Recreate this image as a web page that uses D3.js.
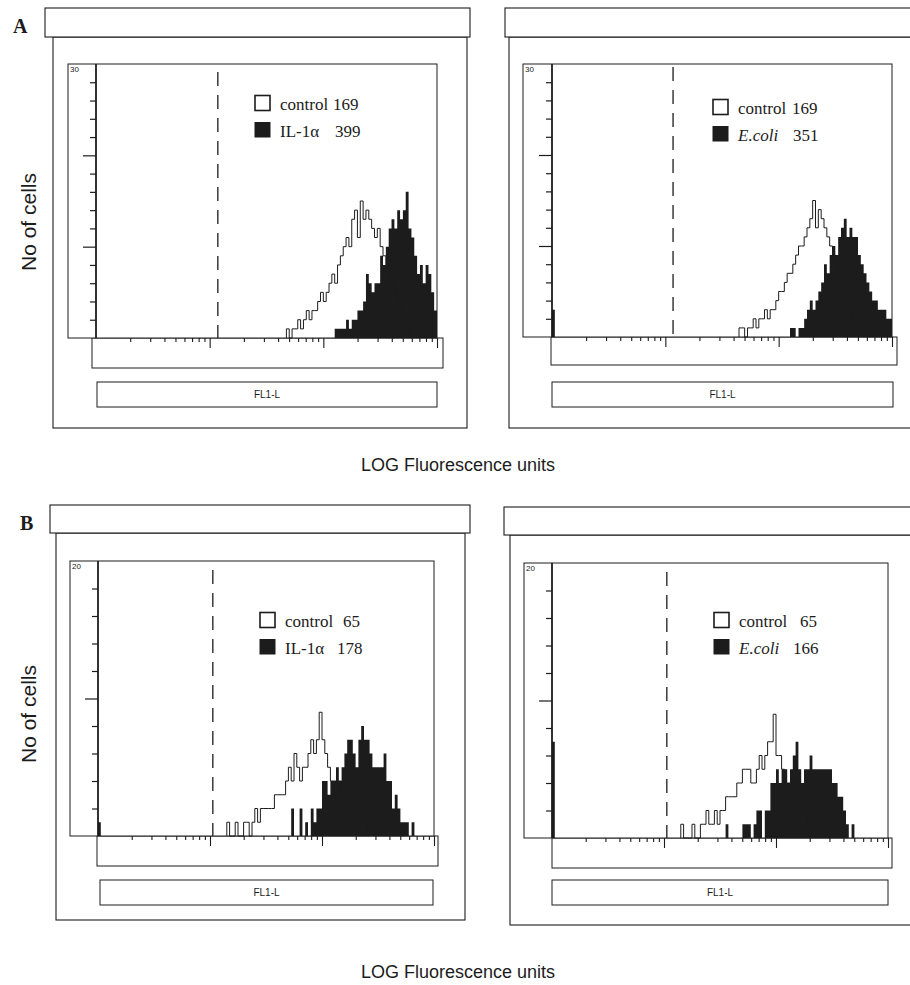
<!DOCTYPE html>
<html>
<head>
<meta charset="utf-8">
<script src="https://cdn.jsdelivr.net/npm/d3@7"></script>
<style>
  body { margin: 0; background: #fff; }
  svg { display: block; }
</style>
</head>
<body>
<div id="chart"></div>
<script>
// values (panel order: A left, A right, B left, B right)
var panelLetters = ["A", "B"];
var treatments = ["IL-1\u03b1", "E.coli", "IL-1\u03b1", "E.coli"];
var controlTotals = [169, 169, 65, 65];
var treatedTotals = [399, 351, 178, 166];
var yMax = [30, 30, 20, 20];
var markerValue = [11.8, 11.7, 10.6, 10.6];   // dashed gate line, FL1 units
var binsPerDecade = 40;                        // histogram channels per log decade
var firstChannel = [0, 3, 1, 7];               // pile-up in channel 0

var controlStart = [67, 66, 46, 46];
var controlCounts = [
  [1,0,1,1,2,1,2,3,2,3, 3,4,5,4,5,6,7,6,8,9, 10,11,10,13,14,11,15,13,14,13, 12,11,12,10,9,8,7,6,5,4, 3,2,1,1],
  [1,1,0,1,1,2,1,2,2,3, 2,3,3,4,5,5,6,7,7,8, 9,10,10,11,12,13,15,12,14,13, 12,11,10,9,8,7,6,5,4,3, 2,2,1,1],
  [1,0,0,1,0,0,1,1,0,1, 2,1,2,2,2,2,2,3,3,3, 3,4,5,4,6,5,4,5,5,6, 7,6,7,9,7,6,5,4,4,3, 4,3,3,2,2,2,1,1,1,1],
  [1,0,0,0,1,0,0,1,1,2, 1,1,2,1,2,2,3,3,3,3, 4,4,5,5,5,4,4,5,6,5, 6,7,7,9,6,6,5,4,4,3, 3,3,2,2,2,1,1,1,1]
];
var treatedStart = [84, 84, 69, 62];
var treatedCounts = [
  [1,1,1,1,2,1,2,2,3,3, 4,7,6,5,6,6,9,8,10,12, 13,12,14,13,14,16,12,11,9,7, 8,6,8,7,5,3],
  [1,1,0,1,1,2,3,4,3,4, 5,6,8,7,9,10,9,11,12,13, 11,12,11,11,9,8,7,6,5,4, 4,3,3,3,2,2],
  [2,0,0,2,0,1,0,2,1,2, 2,4,4,3,4,4,5,4,5,6, 7,7,6,5,7,8,7,7,6,5, 5,5,5,6,4,4,2,3,2,1, 1,1,0,1],
  [1,0,0,0,0,0,1,1,1,0, 1,2,2,0,2,2,4,4,5,4, 5,5,4,5,6,7,5,4,5,5, 6,5,5,5,5,5,5,5,4,4, 3,3,2,1,0,1]
];

// page layout (pixels)
var layout = [
  { header: [45, 8, 425, 29],  frame: [53, 37, 467, 428],  labelX: 68,  plot: [96, 437, 64, 338],
    axisBox: [92, 443, 338, 368], flBox: [97, 437, 382, 407], dashTop: 72,
    legend: [255, 96], countX: [333, 335] },
  { header: [505, 8, 430, 29], frame: [509, 37, 940, 428], labelX: 523, plot: [552, 892, 64, 337],
    axisBox: [551, 897, 337, 365], flBox: [552, 893, 382, 407], dashTop: 67,
    legend: [713, 100], countX: [792, 793] },
  { header: [50, 505, 420, 28], frame: [56, 533, 465, 920], labelX: 70,  plot: [98, 434, 561, 836],
    axisBox: [97, 438, 836, 866], flBox: [100, 433, 880, 905], dashTop: 570,
    legend: [260, 613], countX: [343, 337] },
  { header: [504, 507, 430, 28], frame: [510, 535, 940, 925], labelX: 524, plot: [552, 888, 563, 838],
    axisBox: [552, 892, 838, 868], flBox: [552, 888, 880, 905], dashTop: 572,
    legend: [714, 613], countX: [800, 793] }
];

var ink = "#1c1c1c";
var serif = "'Liberation Serif', 'Times New Roman', serif";
var sans = "'Liberation Sans', Arial, sans-serif";

var svg = d3.select("#chart").append("svg")
    .attr("width", 910)
    .attr("height", 985);

function binPoints(start, counts) {
  var pts = [{ v: Math.pow(10, start / binsPerDecade), c: 0 }];
  counts.forEach(function(c, k) {
    pts.push({ v: Math.pow(10, (start + k) / binsPerDecade), c: c });
  });
  pts.push({ v: Math.pow(10, (start + counts.length) / binsPerDecade), c: 0 });
  return pts;
}

layout.forEach(function(L, i) {
  var g = svg.append("g");

  // outer frame and header bar
  g.append("rect")
      .attr("x", L.frame[0]).attr("y", L.frame[1])
      .attr("width", L.frame[2] - L.frame[0]).attr("height", L.frame[3] - L.frame[1])
      .attr("fill", "none").attr("stroke", ink).attr("stroke-width", 1.1);
  g.append("rect")
      .attr("x", L.header[0]).attr("y", L.header[1])
      .attr("width", L.header[2]).attr("height", L.header[3])
      .attr("fill", "#fff").attr("stroke", ink).attr("stroke-width", 1.1);

  var x = d3.scaleLog().domain([1, 1000]).range([L.plot[0], L.plot[1]]);
  var y = d3.scaleLinear().domain([0, yMax[i]]).range([L.plot[3], L.plot[2]]);

  // axis strip under the plot and FL1-L label box
  g.append("rect")
      .attr("x", L.axisBox[0]).attr("y", L.axisBox[2])
      .attr("width", L.axisBox[1] - L.axisBox[0]).attr("height", L.axisBox[3] - L.axisBox[2])
      .attr("fill", "none").attr("stroke", ink).attr("stroke-width", 1);
  g.append("rect")
      .attr("x", L.flBox[0]).attr("y", L.flBox[2])
      .attr("width", L.flBox[1] - L.flBox[0]).attr("height", L.flBox[3] - L.flBox[2])
      .attr("fill", "none").attr("stroke", ink).attr("stroke-width", 1);
  g.append("text")
      .attr("x", (L.flBox[0] + L.flBox[1]) / 2).attr("y", (L.flBox[2] + L.flBox[3]) / 2 + 3.5)
      .attr("text-anchor", "middle")
      .style("font-family", sans).style("font-size", "10px").attr("fill", ink)
      .text("FL1-L");

  // plot box incl. label column
  g.append("rect")
      .attr("x", L.labelX).attr("y", L.plot[2])
      .attr("width", L.plot[1] - L.labelX).attr("height", L.plot[3] - L.plot[2])
      .attr("fill", "#fff").attr("stroke", ink).attr("stroke-width", 1);
  g.append("text")
      .attr("x", L.labelX + 2).attr("y", L.plot[2] + 8)
      .style("font-family", sans).style("font-size", "8px").attr("fill", ink)
      .text(yMax[i]);

  // histograms
  var area = d3.area()
      .curve(d3.curveStepAfter)
      .x(function(d) { return x(d.v); })
      .y0(y(0))
      .y1(function(d) { return y(d.c); });
  var line = d3.line()
      .curve(d3.curveStepAfter)
      .x(function(d) { return x(d.v); })
      .y(function(d) { return y(d.c); });

  if (firstChannel[i] > 0) {
    g.append("path")
        .attr("d", area(binPoints(0, [firstChannel[i]])))
        .attr("fill", ink);
  }
  g.append("path")
      .attr("d", area(binPoints(treatedStart[i], treatedCounts[i])))
      .attr("fill", ink);
  g.append("path")
      .attr("d", line(binPoints(controlStart[i], controlCounts[i])))
      .attr("fill", "none").attr("stroke", ink).attr("stroke-width", 1);

  // gate marker
  g.append("line")
      .attr("x1", x(markerValue[i])).attr("x2", x(markerValue[i]))
      .attr("y1", L.dashTop).attr("y2", y(0))
      .attr("stroke", ink).attr("stroke-width", 1.3)
      .attr("stroke-dasharray", "14,9");

  // y ticks: every 2 cells, longer at 10 and 20
  var minorY = d3.range(2, yMax[i], 2).filter(function(v) { return v % 10 !== 0; });
  var majorY = d3.range(10, yMax[i], 10);
  [[minorY, 6], [majorY, 13]].forEach(function(t) {
    var ax = g.append("g")
        .attr("transform", "translate(" + L.plot[0] + ",0)")
        .call(d3.axisLeft(y).tickValues(t[0]).tickSize(t[1]).tickFormat(""));
    ax.select(".domain").remove();
    ax.selectAll("line").attr("stroke", ink).attr("stroke-width", 1.2);
  });
  g.append("line")
      .attr("x1", L.plot[0]).attr("x2", L.plot[0])
      .attr("y1", L.plot[2]).attr("y2", L.plot[3])
      .attr("stroke", ink).attr("stroke-width", 1.8);

  // log x ticks
  var minorX = [];
  [1, 10, 100].forEach(function(d) {
    for (var m = 2; m <= 9; m++) minorX.push(d * m);
  });
  [[minorX, 4], [[10, 100, 1000], 10]].forEach(function(t) {
    var ax = g.append("g")
        .attr("transform", "translate(0," + L.plot[3] + ")")
        .call(d3.axisBottom(x).tickValues(t[0]).tickSize(t[1]).tickFormat(""));
    ax.select(".domain").remove();
    ax.selectAll("line").attr("stroke", ink).attr("stroke-width", 1.1);
  });

  // legend
  var lx = L.legend[0], ly = L.legend[1];
  g.append("rect")
      .attr("x", lx).attr("y", ly - 0.5).attr("width", 15).attr("height", 15)
      .attr("fill", "#fff").attr("stroke", ink).attr("stroke-width", 1.6);
  g.append("rect")
      .attr("x", lx - 0.5).attr("y", ly + 26).attr("width", 16).attr("height", 15.5)
      .attr("fill", ink);
  var t1 = g.append("text").attr("y", ly + 14)
      .style("font-family", serif).style("font-size", "17px").attr("fill", ink);
  t1.append("tspan").attr("x", lx + 25).text("control");
  t1.append("tspan").attr("x", L.countX[0]).text(controlTotals[i]);
  var t2 = g.append("text").attr("y", ly + 41)
      .style("font-family", serif).style("font-size", "17px").attr("fill", ink);
  t2.append("tspan").attr("x", lx + 25)
      .style("font-style", treatments[i] === "E.coli" ? "italic" : "normal")
      .text(treatments[i]);
  t2.append("tspan").attr("x", L.countX[1]).text(treatedTotals[i]);
});

// row labels and shared axis titles
var rows = [
  { letterX: 13, letterY: 33,  cellsY: 222, unitsY: 471 },
  { letterX: 20, letterY: 530, cellsY: 714, unitsY: 978 }
];
rows.forEach(function(r, k) {
  svg.append("text")
      .attr("x", r.letterX).attr("y", r.letterY)
      .style("font-family", serif).style("font-size", "20px").style("font-weight", "bold")
      .attr("fill", ink)
      .text(panelLetters[k]);
  svg.append("text")
      .attr("transform", "translate(36," + r.cellsY + ") rotate(-90)")
      .attr("text-anchor", "middle")
      .style("font-family", sans).style("font-size", "21px").attr("fill", ink)
      .text("No of cells");
  svg.append("text")
      .attr("x", 458).attr("y", r.unitsY)
      .attr("text-anchor", "middle")
      .style("font-family", sans).style("font-size", "18px").attr("fill", ink)
      .text("LOG Fluorescence units");
});
</script>
</body>
</html>
